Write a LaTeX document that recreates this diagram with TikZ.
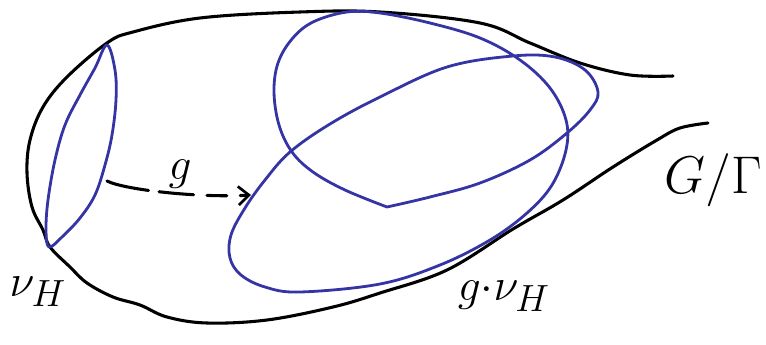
\documentclass[tikz,border=0pt]{standalone}
\usetikzlibrary{arrows.meta}
\definecolor{penblue}{RGB}{52,52,165}
\begin{document}
\begin{tikzpicture}[x=0.75pt,y=-0.75pt,
  blackpen/.style={line width=2.3pt,line cap=round,line join=round,black},
  bluepen/.style={line width=2.1pt,line cap=round,line join=round,penblue},
  lbl/.style={inner sep=0pt,font=\Huge,scale=1.37}]
\useasboundingbox (0,0) rectangle (766,345);
% space outline G/Gamma
\draw[blackpen] plot[smooth,tension=0.6] coordinates {(673,76) (630,75) (580,63) (530,43) (480,23) (380,12) (300,12) (200,18) (133,32) (107,43) (67,77) (43,107) (30,140) (27,173) (32,207) (43,230) (50,247) (70,267) (87,283) (113,297) (140,305) (167,317) (207,323) (267,320) (333,307) (380,293) (447,270) (513,229) (563,200) (613,167) (657,140) (680,128) (708,123)};
% nu_H
\draw[bluepen] plot[smooth cycle,tension=0.6] coordinates {(107,45) (115,70) (116,100) (112,135) (105,165) (95,195) (80,218) (62,237) (49,247) (46,230) (48,200) (55,160) (65,125) (80,95) (95,68)};
% g . nu_H
\draw[bluepen] plot[smooth,tension=0.6] coordinates {(387,207) (430,197) (480,183) (530,160) (567,133) (590,110) (598,92) (585,70) (555,57) (513,56) (447,67) (380,97) (330,124) (290,152) (265,180) (245,208) (231,235) (230,258) (241,275) (265,287) (300,292) (380,284) (440,265) (490,240) (527,213) (552,185) (566,150) (566,120) (550,88) (520,60) (480,38) (430,23) (380,13) (347,12) (313,22) (292,39) (278,63) (274,92) (279,125) (292,152) (313,172) (345,190) (387,207)};
% arrow g
\coordinate (a0) at (107,181);
\coordinate (a1) at (251,195);
\draw[blackpen,dash pattern=on 32pt off 8pt on 26pt off 10pt on 15pt off 10pt on 17pt off 0pt,-{Straight Barb[length=8pt,width=14pt,line width=2pt]}] (a0) .. controls (125,190) and (200,198) .. (a1);
\coordinate (pg) at (180,174);
\coordinate (pnu) at (38,292);
\coordinate (pgnu) at (504,296);
\coordinate (pspace) at (713,180);
\node[lbl] (g) at (pg) {$g$};
\node[lbl] (nu) at (pnu) {$\nu_H$};
\node[lbl] (gnu) at (pgnu) {$g{\cdot}\nu_H$};
\node[inner sep=0pt,font=\Huge,scale=1.6] (space) at (pspace) {$G/\Gamma$};
\end{tikzpicture}
\end{document}
